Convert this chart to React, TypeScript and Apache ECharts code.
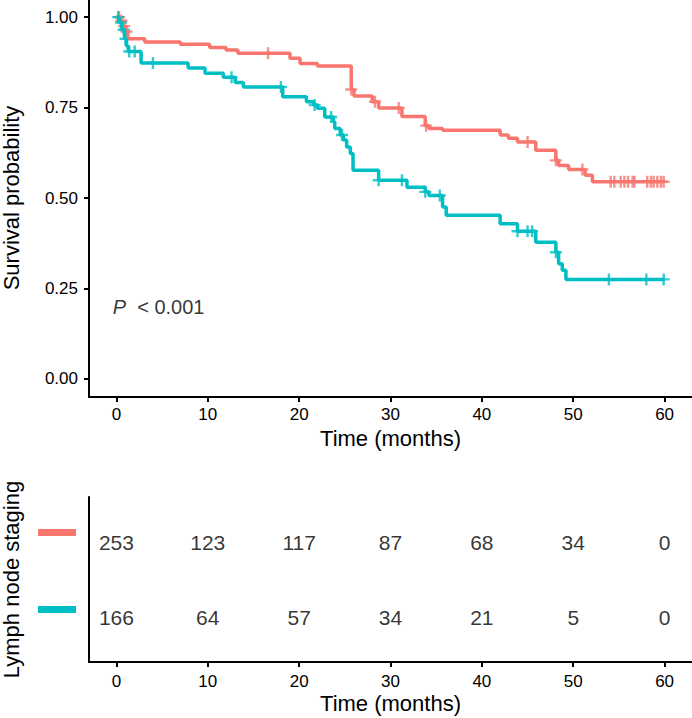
import React, { useEffect, useRef } from "react";
import * as echarts from "echarts";

// ---- data ----
const xTicks = [0, 10, 20, 30, 40, 50, 60];
const yTicks = [0, 0.25, 0.5, 0.75, 1.0];

// Group 1 (salmon) Kaplan-Meier step points
const salmonTime = [0, 0.4, 0.7, 1.0, 1.25, 3.1, 7.0, 10.2, 12.0, 13.3, 19.0, 20.1, 22.0, 25.7, 26.0, 28.0, 28.7, 31.25, 33.8, 34.2, 35.7, 42.0, 42.9, 43.9, 45.9, 48.1, 48.4, 49.5, 51.3, 52.1, 60];
const salmonSurv = [1, 0.99, 0.975, 0.96, 0.94, 0.931, 0.925, 0.916, 0.909, 0.9, 0.886, 0.872, 0.865, 0.8, 0.782, 0.766, 0.749, 0.725, 0.7, 0.692, 0.687, 0.674, 0.665, 0.655, 0.632, 0.604, 0.59, 0.579, 0.563, 0.545, 0.545];
const salmonCensor = [0.3, 0.55, 0.85, 1.1, 16.6, 25.7, 28.3, 30.9, 33.9, 45.0, 48.1, 51.0, 54.1, 54.5, 55.2, 55.6, 56.0, 56.5, 56.7, 58.1, 58.5, 58.8, 59.2, 59.6, 59.9];

// Group 2 (teal) Kaplan-Meier step points
const tealTime = [0, 0.3, 0.6, 0.9, 1.1, 1.3, 2.7, 7.85, 9.7, 11.7, 13.0, 13.9, 18.2, 20.8, 21.6, 22.0, 22.8, 23.75, 23.9, 24.5, 24.85, 25.2, 25.6, 25.9, 28.7, 31.8, 33.8, 34.2, 35.7, 36.1, 42.0, 43.9, 45.9, 48.1, 48.4, 48.8, 49.2, 60];
const tealSurv = [1, 0.985, 0.965, 0.94, 0.92, 0.905, 0.873, 0.859, 0.845, 0.834, 0.819, 0.807, 0.78, 0.766, 0.757, 0.748, 0.724, 0.711, 0.692, 0.674, 0.66, 0.641, 0.623, 0.577, 0.549, 0.53, 0.517, 0.507, 0.475, 0.452, 0.429, 0.408, 0.378, 0.35, 0.318, 0.3, 0.275, 0.275];
const tealCensor = [0.2, 0.5, 0.8, 1.0, 1.4, 2.0, 4.0, 12.6, 18.0, 21.7, 23.5, 24.7, 28.7, 31.25, 33.8, 35.4, 43.9, 45.0, 45.5, 48.1, 53.9, 58.0, 59.9];

// Number at risk
const riskTimes = [0, 10, 20, 30, 40, 50, 60];
const salmonRisk = [253, 123, 117, 87, 68, 34, 0];
const tealRisk = [166, 64, 57, 34, 21, 5, 0];

const SALMON = "#F8766D";
const TEAL = "#00BFC4";
const FONT = "'Liberation Sans', Arial, Helvetica, sans-serif";
const TXT = "#000";

function survAt(times: number[], surv: number[], t: number) {
  let v = surv[0];
  for (let i = 0; i < times.length; i++) {
    if (times[i] <= t) v = surv[i];
  }
  return v;
}

const PLUS = "path://M4,0h2v4h4v2h-4v4h-2v-4h-4v-2h4z";

export default function App() {
  const ref = useRef<HTMLDivElement>(null);
  useEffect(() => {
    if (!ref.current) return;
    const chart = echarts.init(ref.current, undefined, { renderer: "svg" });
    const axisLine = { show: true, lineStyle: { color: "#000", width: 2 } };
    const xAxisBase = (gridIndex: number, margin: number, gap: number) => ({
      type: "value" as const,
      gridIndex,
      min: -3,
      max: 63,
      splitLine: { show: false },
      axisLine: { ...axisLine, onZero: false },
      axisTick: { show: true, customValues: xTicks, length: 5, lineStyle: { color: "#000", width: 2 } },
      axisLabel: { customValues: xTicks, fontSize: 17, color: TXT, fontFamily: FONT, margin },
      name: "Time (months)",
      nameLocation: "middle" as const,
      nameGap: gap,
      nameTextStyle: { fontSize: 22, color: TXT, fontFamily: FONT },
    });
    const option: any = {
      animation: false,
      grid: [
        { left: 89, right: 0, top: -1, height: 398, outerBoundsMode: "none", containLabel: false },
        { left: 89, right: 0, top: 497, height: 165, outerBoundsMode: "none", containLabel: false },
      ],
      xAxis: [xAxisBase(0, 9, 26), xAxisBase(1, 11, 30)],
      yAxis: [
        {
          type: "value",
          gridIndex: 0,
          min: -0.05,
          max: 1.05,
          splitLine: { show: false },
          axisLine: { ...axisLine, onZero: false },
          axisTick: { show: true, customValues: yTicks, length: 5, lineStyle: { color: "#000", width: 2 } },
          axisLabel: {
            customValues: yTicks,
            fontSize: 17,
            color: TXT,
            fontFamily: FONT,
            margin: 11,
            formatter: (v: number) => v.toFixed(2),
          },
          name: "Survival probability",
          nameLocation: "middle",
          nameGap: 67,
          nameTextStyle: { fontSize: 22, color: TXT, fontFamily: FONT },
        },
        {
          type: "value",
          gridIndex: 1,
          min: 0.4,
          max: 2.6,
          splitLine: { show: false },
          axisLine: { ...axisLine, onZero: false },
          axisTick: { show: false },
          axisLabel: { show: false },
          name: "Lymph node staging",
          nameLocation: "middle",
          nameGap: 67,
          nameTextStyle: { fontSize: 22, color: TXT, fontFamily: FONT },
        },
      ],
      series: [
        {
          type: "line",
          name: "Group 1",
          step: "end",
          xAxisIndex: 0,
          yAxisIndex: 0,
          symbol: "none",
          lineStyle: { color: SALMON, width: 3.5 },
          data: salmonTime.map((t, i) => [t, salmonSurv[i]]),
        },
        {
          type: "scatter",
          xAxisIndex: 0,
          yAxisIndex: 0,
          symbol: PLUS,
          symbolSize: 12,
          itemStyle: { color: SALMON },
          data: salmonCensor.map((t) => [t, survAt(salmonTime, salmonSurv, t)]),
        },
        {
          type: "line",
          name: "Group 2",
          step: "end",
          xAxisIndex: 0,
          yAxisIndex: 0,
          symbol: "none",
          lineStyle: { color: TEAL, width: 3.5 },
          data: tealTime.map((t, i) => [t, tealSurv[i]]),
        },
        {
          type: "scatter",
          xAxisIndex: 0,
          yAxisIndex: 0,
          symbol: PLUS,
          symbolSize: 12,
          itemStyle: { color: TEAL },
          data: tealCensor.map((t) => [t, survAt(tealTime, tealSurv, t)]),
        },
        {
          type: "scatter",
          xAxisIndex: 0,
          yAxisIndex: 0,
          symbolSize: 0,
          silent: true,
          data: [[-0.4, 0.2]],
          label: {
            show: true,
            position: "right",
            distance: 0,
            formatter: "{i|P}  < 0.001",
            fontSize: 20,
            color: TXT,
            fontFamily: FONT,
            rich: { i: { fontStyle: "italic", fontSize: 20, color: TXT, fontFamily: FONT } },
          },
        },
        {
          type: "scatter",
          xAxisIndex: 1,
          yAxisIndex: 1,
          symbolSize: 0,
          silent: true,
          data: [
            ...riskTimes.map((t, i) => [t, 2, salmonRisk[i]]),
            ...riskTimes.map((t, i) => [t, 1, tealRisk[i]]),
          ],
          label: {
            show: true,
            position: "inside",
            formatter: (p: any) => String(p.value[2]),
            fontSize: 21,
            color: TXT,
            fontFamily: FONT,
          },
        },
      ],
    };
    chart.setOption(option);
    const p1 = chart.convertToPixel({ gridIndex: 1 }, [0, 2]) as number[];
    const p2 = chart.convertToPixel({ gridIndex: 1 }, [0, 1]) as number[];
    chart.setOption({
      graphic: [
        { type: "rect", left: 38, top: p1[1] - 13, shape: { width: 38, height: 7 }, style: { fill: SALMON } },
        { type: "rect", left: 38, top: p2[1] - 11, shape: { width: 38, height: 7 }, style: { fill: TEAL } },
      ],
    });
    return () => chart.dispose();
  }, []);
  return (
    <div
      ref={ref}
      style={{ position: "fixed", left: 0, top: 0, width: 692, height: 718, background: "#fff" }}
    />
  );
}
